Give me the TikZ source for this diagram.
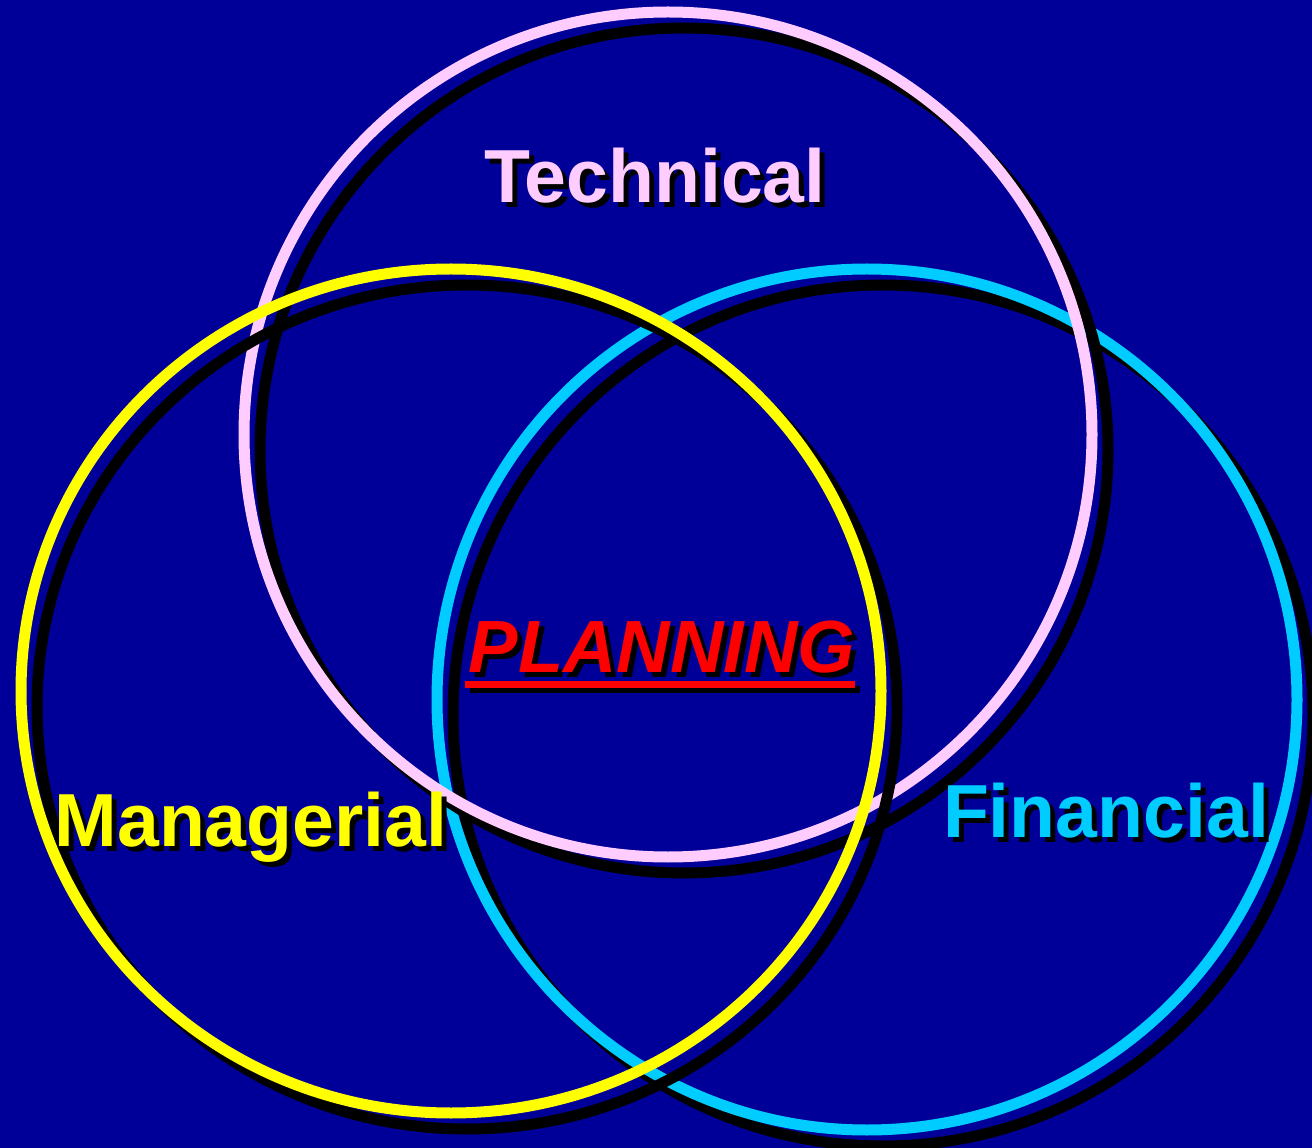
\documentclass[tikz,border=0pt]{standalone}
\usepackage{fontspec}
\setmainfont{Liberation Sans}
\definecolor{bg}{HTML}{000099}
\definecolor{pinkc}{HTML}{FFCCFF}
\definecolor{yelc}{HTML}{FFFF00}
\definecolor{cyanc}{HTML}{00CCFF}
\definecolor{redc}{HTML}{FF0000}
\begin{document}
\begin{tikzpicture}[x=0.02cm,y=-0.02cm,
  ring/.style={line width=0.22cm},
  lbl/.style={inner sep=0pt,anchor=base,font=\fontsize{42.8}{50}\selectfont\bfseries}]
\fill[bg] (0,0) rectangle (1312,1148);
\useasboundingbox (0,0) rectangle (1312,1148);
% Financial (cyan)
\draw[ring,black] (883,715.5) ellipse [x radius=430,y radius=430.5];
\draw[ring,cyanc] (867,699.5) ellipse [x radius=430,y radius=430.5];
% Technical (pink)
\draw[ring,black] (684,450.5) ellipse [x radius=424,y radius=422.5];
\draw[ring,pinkc] (668,434.5) ellipse [x radius=424,y radius=422.5];
% Managerial (yellow)
\draw[ring,black] (467,707) ellipse [x radius=430,y radius=422];
\draw[ring,yelc] (451,691) ellipse [x radius=430,y radius=422];
% labels
\node[lbl,black] (techS) at (660,208) {Technical};
\node[lbl,pinkc] (tech) at (655,203) {Technical};
\node[lbl,black] (manS) at (256,851) {Managerial};
\node[lbl,yelc] (man) at (251,846) {Managerial};
\node[lbl,black] (finS) at (1111,842) {Financial};
\node[lbl,cyanc] (fin) at (1106,837) {Financial};
\node[lbl,black,font=\fontsize{42.1}{50}\selectfont\bfseries\itshape] (planS) at (667,677) {PLANNING};
\node[lbl,redc,font=\fontsize{42.1}{50}\selectfont\bfseries\itshape] (plan) at (662,672) {PLANNING};
\fill[black] (470,686) rectangle (860,693);
\fill[redc] (465,681) rectangle (855,688);
\end{tikzpicture}
\end{document}
